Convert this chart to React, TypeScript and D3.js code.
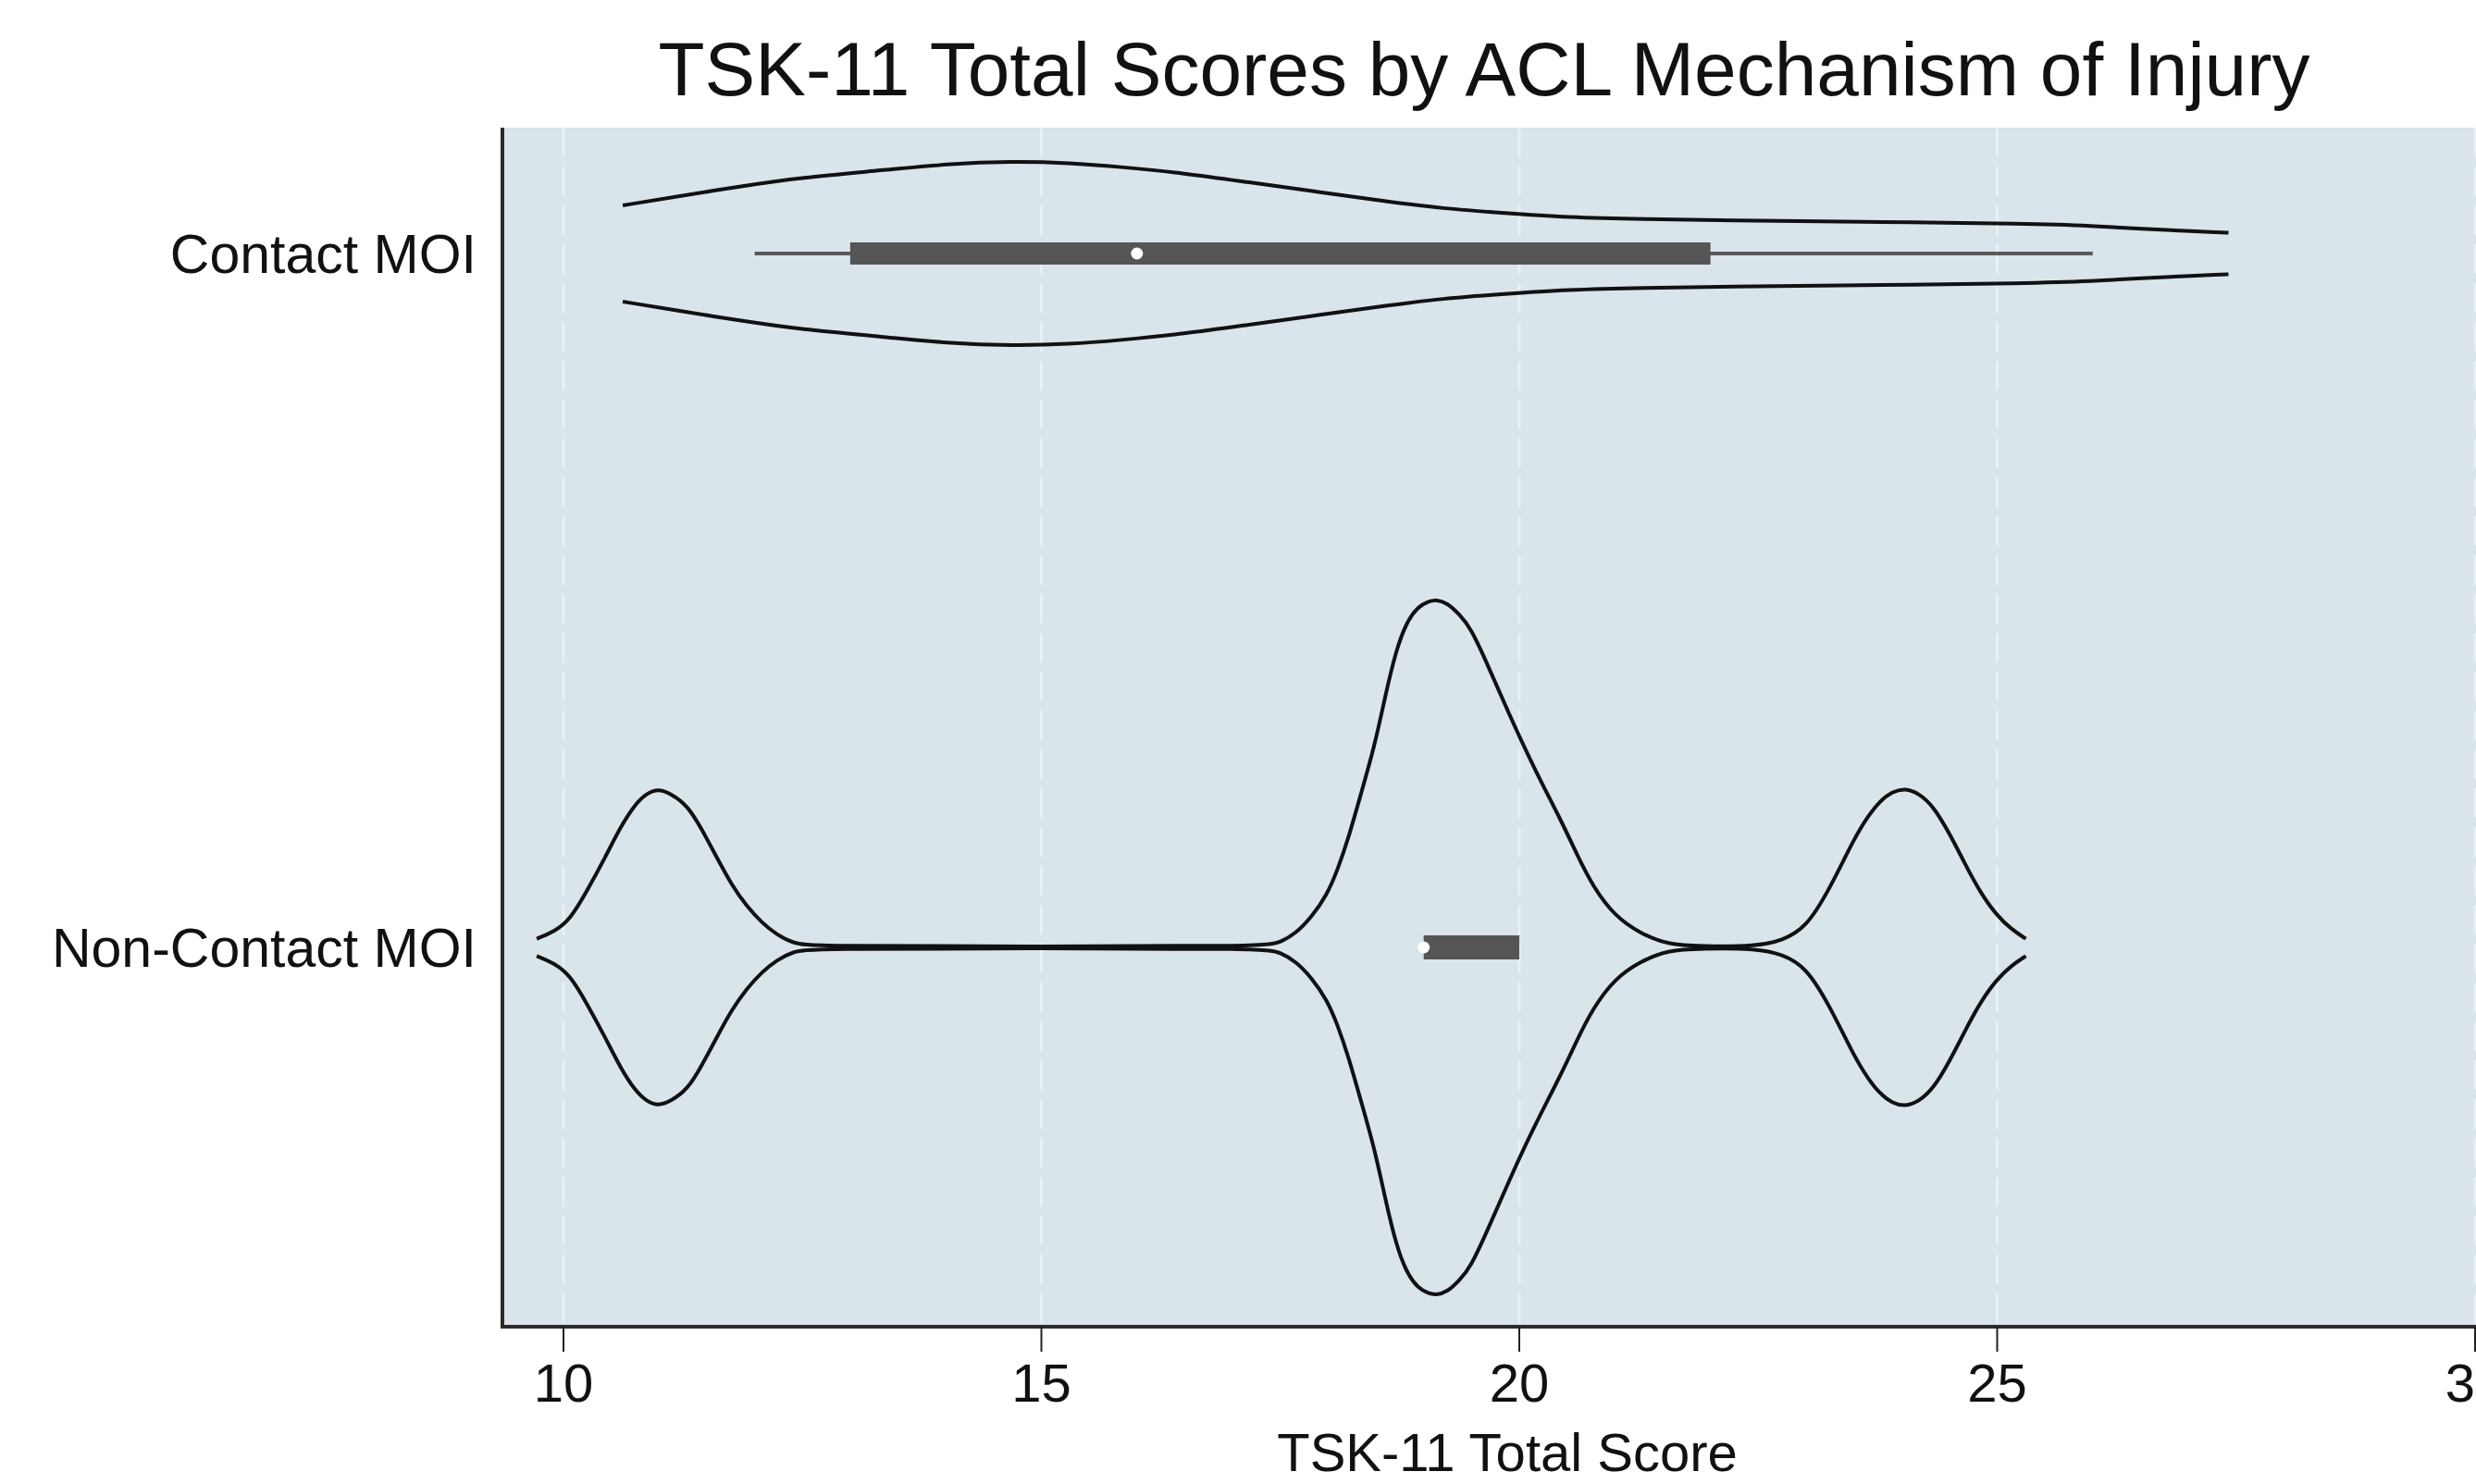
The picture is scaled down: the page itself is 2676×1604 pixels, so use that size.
import React from "react";
import * as d3 from "d3";

// ---- Data ----
const title = "TSK-11 Total Scores by ACL Mechanism of Injury";
const xAxisTitle = "TSK-11 Total Score";
const categories = ["Contact MOI", "Non-Contact MOI"];
const xTicks = [10, 15, 20, 25, 30];

// Kernel density profiles: [score, relative density]
const contactDensity: [number, number][] = [
  [10.62, 0.139], [11.2, 0.165], [11.87, 0.195], [12.47, 0.219], [13.36, 0.241],
  [14.0, 0.259], [14.7, 0.267], [15.3, 0.262], [15.8, 0.251], [16.5, 0.232],
  [17.16, 0.206], [17.9, 0.178], [18.63, 0.15], [19.2, 0.13], [19.79, 0.118],
  [20.51, 0.104], [21.3, 0.099], [22.18, 0.096], [23.5, 0.092], [25.37, 0.086],
  [26.0, 0.08], [26.47, 0.072], [26.9, 0.066], [27.34, 0.061], [27.42, 0.06],
];
const nonContactDensity: [number, number][] = [
  [9.72, 0.025], [9.9, 0.045], [10.07, 0.08], [10.25, 0.165], [10.44, 0.262],
  [10.6, 0.35], [10.75, 0.414], [10.87, 0.445], [10.99, 0.458], [11.12, 0.445],
  [11.3, 0.41], [11.45, 0.34], [11.6, 0.262], [11.76, 0.18], [11.92, 0.118],
  [12.08, 0.07], [12.23, 0.037], [12.4, 0.012], [12.6, 0.003], [15.0, 0.003],
  [17.35, 0.003], [17.5, 0.015], [17.66, 0.04], [17.82, 0.085], [17.99, 0.152],
  [18.1, 0.225], [18.21, 0.313], [18.35, 0.45], [18.49, 0.586], [18.6, 0.73],
  [18.71, 0.858], [18.82, 0.94], [18.94, 0.985], [19.05, 1.0], [19.13, 1.005],
  [19.25, 0.995], [19.37, 0.963], [19.49, 0.925], [19.68, 0.81], [19.88, 0.682],
  [20.15, 0.52], [20.44, 0.366], [20.6, 0.27], [20.77, 0.176], [21.0, 0.09],
  [21.27, 0.04], [21.55, 0.008], [21.9, 0.003], [22.49, 0.003], [22.75, 0.02],
  [23.0, 0.056], [23.25, 0.17], [23.5, 0.313], [23.65, 0.38], [23.77, 0.422],
  [23.9, 0.45], [24.04, 0.46], [24.18, 0.445], [24.33, 0.409], [24.5, 0.33],
  [24.66, 0.243], [24.82, 0.16], [24.99, 0.094], [25.15, 0.052], [25.3, 0.025],
];
const densities = [contactDensity, nonContactDensity];

// Box plot statistics per category
const whiskerLow = [12, 19];
const q1 = [13, 19];
const median = [16, 19];
const q3 = [22, 20];
const whiskerHigh = [26, 20];

// ---- Layout ----
const W = 2676;
const H = 1604;
const plotLeft = 543;
const plotRight = 2720;
const plotTop = 138;
const plotBottom = 1434;
const FONT = "'Liberation Sans', Arial, Helvetica, sans-serif";

export default function App() {
  const x = d3.scaleLinear().domain([10, 30]).range([609, 2675]);
  const y = d3.scalePoint<string>().domain(categories).range([274, 1024]);
  const w = d3.scaleLinear().domain([0, 1]).range([0, 374]);

  const boxH = [24, 26];
  const curve = d3.curveBasis;

  return (
    <div style={{ position: "fixed", left: 0, top: 0, width: W, height: H, background: "#fff" }}>
      <svg width={W} height={H} style={{ display: "block" }} fontFamily={FONT}>
        <rect x={0} y={0} width={W} height={H} fill="#ffffff" />
        {/* plot region */}
        <rect x={plotLeft} y={plotTop} width={plotRight - plotLeft} height={plotBottom - plotTop} fill="#d9e4eb" />
        {/* grid lines */}
        {xTicks.map((t) => (
          <line key={"g" + t} x1={x(t)} x2={x(t)} y1={plotTop} y2={plotBottom}
            stroke="#e9f0f4" strokeWidth={3} strokeDasharray="32 10" />
        ))}
        {/* violins */}
        {categories.map((c, i) => {
          const yc = y(c) as number;
          const upper = d3.line<[number, number]>()
            .x((d) => x(d[0]))
            .y((d) => yc - w(d[1]))
            .curve(curve)(densities[i]) as string;
          const lower = d3.line<[number, number]>()
            .x((d) => x(d[0]))
            .y((d) => yc + w(d[1]))
            .curve(curve)(densities[i]) as string;
          return (
            <g key={c}>
              <path d={upper} fill="none" stroke="#111" strokeWidth={4} strokeLinejoin="round" />
              <path d={lower} fill="none" stroke="#111" strokeWidth={4} strokeLinejoin="round" />
            </g>
          );
        })}
        {/* box plots */}
        {categories.map((c, i) => {
          const yc = y(c) as number;
          return (
            <g key={"b" + c}>
              <line x1={x(whiskerLow[i])} x2={x(whiskerHigh[i])} y1={yc} y2={yc} stroke="#5a5a5a" strokeWidth={4} />
              <rect x={x(q1[i])} y={yc - boxH[i] / 2} width={x(q3[i]) - x(q1[i])} height={boxH[i]} fill="#555555" />
              <circle cx={x(median[i])} cy={yc} r={6.5} fill="#ffffff" />
            </g>
          );
        })}
        {/* axes */}
        <line x1={plotLeft} x2={plotLeft} y1={plotTop} y2={plotBottom + 2} stroke="#2b2b2b" strokeWidth={4} />
        <line x1={plotLeft - 2} x2={W} y1={plotBottom} y2={plotBottom} stroke="#2b2b2b" strokeWidth={4} />
        {xTicks.map((t) => (
          <g key={"t" + t}>
            <line x1={x(t)} x2={x(t)} y1={plotBottom} y2={plotBottom + 27} stroke="#222" strokeWidth={2} />
            <text x={x(t)} y={1515} textAnchor="middle" fontSize={58} fill="#111">{t}</text>
          </g>
        ))}
        {categories.map((c) => (
          <text key={"l" + c} x={515} y={(y(c) as number) + 21} textAnchor="end" fontSize={59} fill="#111">{c}</text>
        ))}
        <text x={1629} y={1590} textAnchor="middle" fontSize={58} fill="#111">{xAxisTitle}</text>
        <text x={1604} y={103} textAnchor="middle" fontSize={82} fill="#111">{title}</text>
      </svg>
    </div>
  );
}
